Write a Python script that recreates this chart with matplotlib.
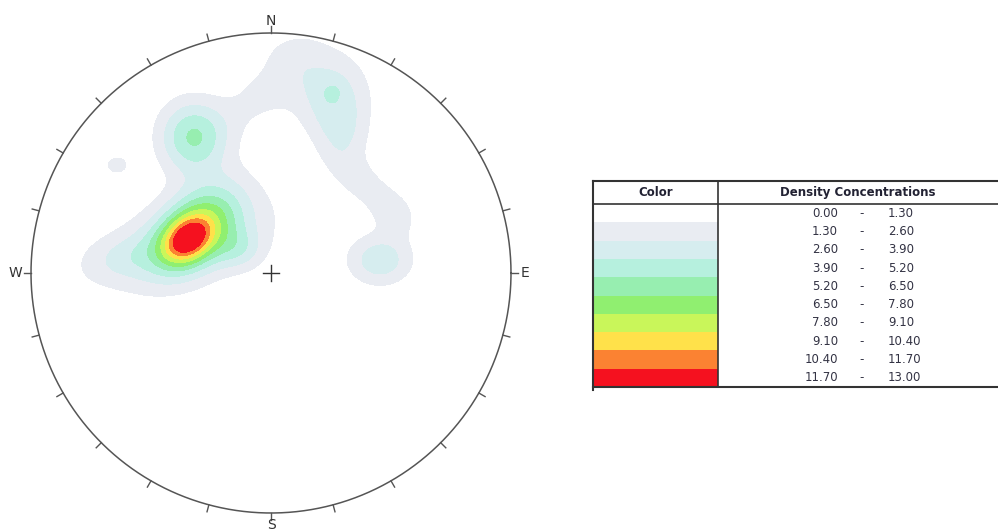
import numpy as np
import matplotlib.pyplot as plt
from matplotlib.patches import Rectangle

# contour classes (legend)
levels = [0.0, 1.3, 2.6, 3.9, 5.2, 6.5, 7.8, 9.1, 10.4, 11.7, 13.0]
colors = ["#ffffff", "#e9ecf2", "#d6edef", "#b6f0de", "#97eeb0",
          "#90ef70", "#c9f65a", "#ffe14a", "#fb8232", "#f5111f"]

# density clusters, stereonet coords (x east, y north, unit radius)
# x, y, peak, sigma major, sigma minor, angle (deg)
blob_x = [-0.350, -0.308, -0.379, -0.629, -0.129,
          -0.325, -0.642, -0.010, 0.080,
          0.254, 0.300, 0.254, 0.392, 0.517, 0.454]
blob_y = [0.138, 0.188, 0.117, 0.062, 0.096,
          0.567, 0.450, 0.770, 0.920,
          0.742, 0.570, 0.754, 0.367, 0.242, 0.054]
blob_a = [6.0, 6.5, 2.6, 1.2, 2.0,
          5.22, 1.9, 1.7, 1.0,
          3.2, 1.8, 0.8, 1.8, 1.5, 3.5]
blob_s1 = [0.075, 0.160, 0.300, 0.100, 0.070,
           0.100, 0.040, 0.180, 0.070,
           0.125, 0.100, 0.030, 0.125, 0.070, 0.096]
blob_s2 = [0.055, 0.100, 0.115, 0.060, 0.060,
           0.108, 0.032, 0.080, 0.050,
           0.112, 0.075, 0.025, 0.058, 0.060, 0.075]
blob_ang = [40, 45, 15, 10, 0,
            0, 0, 40, 10,
            95, 100, 30, -40, -45, 0]

cardinals = ["N", "E", "S", "W"]
card_az = [0, 90, 180, 270]
card_r = [1.05, 1.058, 1.05, 1.065]


def density(X, Y):
    Z = np.zeros_like(X)
    for x0, y0, a, s1, s2, ang in zip(blob_x, blob_y, blob_a, blob_s1, blob_s2, blob_ang):
        t = np.radians(ang)
        u = (X - x0) * np.cos(t) + (Y - y0) * np.sin(t)
        v = -(X - x0) * np.sin(t) + (Y - y0) * np.cos(t)
        Z += a * np.exp(-0.5 * ((u / s1) ** 2 + (v / s2) ** 2))
    return Z


fig = plt.figure(figsize=(9.98, 5.32), dpi=100)

# stereonet: center (271, 273) px, radius 240 px
R = 240.0
half = 1.1 * R
ax = fig.add_axes([(271 - half) / 998, (532 - 273 - half) / 532, 2 * half / 998, 2 * half / 532])
ax.set_xlim(-1.1, 1.1)
ax.set_ylim(-1.1, 1.1)
ax.axis("off")

g = np.linspace(-1, 1, 500)
X, Y = np.meshgrid(g, g)
Z = np.minimum(density(X, Y), 12.99)
Z = np.ma.masked_where(X ** 2 + Y ** 2 > 1, Z)
ax.contourf(X, Y, Z, levels=levels, colors=colors)

th = np.linspace(0, 2 * np.pi, 400)
ax.plot(np.cos(th), np.sin(th), color="#555555", lw=1.1)

# ticks every 15 degrees, outward
for az in range(0, 360, 15):
    a = np.radians(az)
    ax.plot([np.sin(a), 1.03 * np.sin(a)], [np.cos(a), 1.03 * np.cos(a)], color="#555555", lw=1)

for lab, az, r in zip(cardinals, card_az, card_r):
    a = np.radians(az)
    ax.text(r * np.sin(a), r * np.cos(a), lab, ha="center", va="center",
            fontsize=10, color="#333333")

ax.plot([-0.035, 0.035], [0, 0], color="#333333", lw=1)
ax.plot([0, 0], [-0.035, 0.035], color="#333333", lw=1)

# legend table, pixel coords
tx = fig.add_axes([0, 0, 1, 1], facecolor="none")
tx.set_xlim(0, 998)
tx.set_ylim(532, 0)
tx.axis("off")
x0, xm, x1 = 593, 718, 998
y_top, y_head, row_h = 181, 204, 18.3
for i, c in enumerate(colors):
    tx.add_patch(Rectangle((x0, y_head + i * row_h), xm - x0, row_h, facecolor=c, edgecolor="none"))
    yc = y_head + (i + 0.5) * row_h
    tx.text(838, yc, f"{levels[i]:.2f}", ha="right", va="center", fontsize=8.5, color="#333344")
    tx.text(862, yc, "-", ha="center", va="center", fontsize=8.5, color="#333344")
    tx.text(888, yc, f"{levels[i + 1]:.2f}", ha="left", va="center", fontsize=8.5, color="#333344")
y_bot = y_head + len(colors) * row_h
tx.plot([x0, x1], [y_top, y_top], color="#333333", lw=1.5)
tx.plot([x0, x1], [y_head, y_head], color="#333333", lw=1.2)
tx.plot([x0, x1], [y_bot, y_bot], color="#333333", lw=1.5)
tx.plot([x0, x0], [y_top, y_bot + 3], color="#333333", lw=1.5)
tx.plot([xm, xm], [y_top, y_bot], color="#333333", lw=1.2)
tx.text((x0 + xm) / 2, (y_top + y_head) / 2, "Color", ha="center", va="center",
        fontsize=8.5, fontweight="bold", color="#222233")
tx.text(858, (y_top + y_head) / 2, "Density Concentrations", ha="center", va="center",
        fontsize=8.5, fontweight="bold", color="#222233")

fig.savefig("out.png", dpi=100)
